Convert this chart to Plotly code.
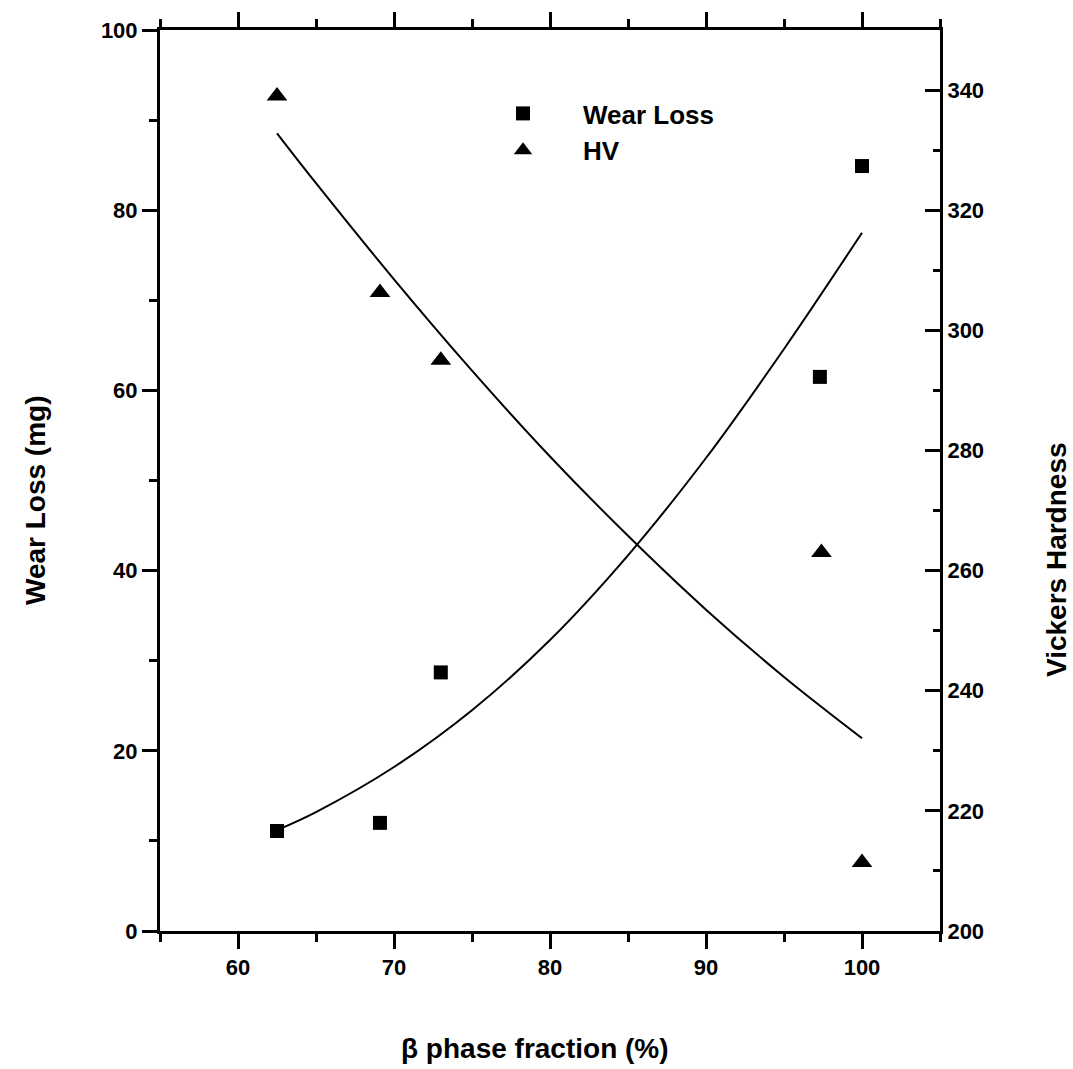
import plotly.graph_objects as go

# Measured data
beta_frac = [62.5, 69.1, 73.0, 97.3, 100.0]
wear_loss = [11.1, 12.0, 28.7, 61.5, 84.9]
hv_x = [62.5, 69.1, 73.0, 97.4, 100.0]
hv_vals = [339.0, 306.3, 295.0, 263.0, 211.4]

# Fit curves
wear_fit_x = [62.5, 65, 70, 75, 80, 85, 90, 95, 100]
wear_fit_y = [11.2, 13.2, 18.2, 24.5, 32.3, 41.7, 52.5, 64.6, 77.5]
hv_fit_x = [62.5, 65, 70, 75, 80, 85, 90, 95, 100]
hv_fit_y = [332.8, 324.5, 308.5, 293.3, 279.0, 265.8, 253.5, 242.3, 232.1]

x_title = "β phase fraction (%)"
y_title = "Wear Loss (mg)"
y2_title = "Vickers Hardness"

FONT = "Liberation Sans, Arial, sans-serif"
TITLE_FONT = dict(family=FONT, size=28, color="black", weight="bold")

fig = go.Figure()
fig.add_trace(go.Scatter(x=wear_fit_x, y=wear_fit_y, mode="lines",
                         line=dict(color="black", width=2, shape="spline", smoothing=1.0),
                         showlegend=False, xaxis="x", yaxis="y", hoverinfo="skip"))
fig.add_trace(go.Scatter(x=hv_fit_x, y=hv_fit_y, mode="lines",
                         line=dict(color="black", width=2, shape="spline", smoothing=1.0),
                         showlegend=False, xaxis="x", yaxis="y2", hoverinfo="skip"))
fig.add_trace(go.Scatter(x=beta_frac, y=wear_loss, mode="markers", name="Wear Loss",
                         marker=dict(symbol="square", size=14, color="black"), xaxis="x", yaxis="y"))
fig.add_trace(go.Scatter(x=hv_x, y=hv_vals, mode="markers", name="HV",
                         marker=dict(symbol="triangle-up", size=18, color="black"), xaxis="x", yaxis="y2"))

axis_common = dict(showline=True, linecolor="black", linewidth=3, showgrid=False, zeroline=False,
                   tickcolor="black", tickwidth=3, ticklen=15)
TICK_FONT = dict(family=FONT, size=22, color="black", weight="bold")

fig.update_layout(
    width=1073, height=1069,
    margin=dict(l=160, r=133, t=30, b=138),
    paper_bgcolor="white", plot_bgcolor="white",
    xaxis=dict(range=[55, 105], dtick=10, tick0=0, ticks="outside", anchor="y", mirror="ticks",
               tickfont=TICK_FONT,
               minor=dict(dtick=5, ticks="outside", ticklen=8, tickwidth=3, tickcolor="black"),
               **axis_common),
    yaxis=dict(range=[0, 100], dtick=20, tick0=0, ticks="outside", anchor="x",
               tickfont=TICK_FONT,
               minor=dict(dtick=10, ticks="outside", ticklen=8, tickwidth=3, tickcolor="black"),
               **axis_common),
    yaxis2=dict(range=[200, 350], dtick=20, tick0=200, ticks="inside", side="right", overlaying="y",
                anchor="x", tickfont=TICK_FONT,
                minor=dict(dtick=10, ticks="inside", ticklen=7, tickwidth=3, tickcolor="black"),
                **axis_common),
    legend=dict(x=(463 - 160) / 780, y=(931 - 90) / 901, xanchor="left", yanchor="top",
                bgcolor="rgba(0,0,0,0)", borderwidth=0, itemwidth=110,
                font=dict(family=FONT, size=26, color="black", weight="bold"), tracegroupgap=0),
    showlegend=True,
    annotations=[
        dict(text=x_title, xref="paper", yref="paper", x=(535 - 160) / 780, y=(931 - 1048) / 901,
             xanchor="center", yanchor="middle", showarrow=False, font=TITLE_FONT),
        dict(text=y_title, xref="paper", yref="paper", x=(35 - 160) / 780, y=(931 - 500) / 901,
             xanchor="center", yanchor="middle", showarrow=False, textangle=-90, font=TITLE_FONT),
        dict(text=y2_title, xref="paper", yref="paper", x=(1056 - 160) / 780, y=(931 - 560) / 901,
             xanchor="center", yanchor="middle", showarrow=False, textangle=-90, font=TITLE_FONT),
    ],
)

fig.write_html("out.html")
